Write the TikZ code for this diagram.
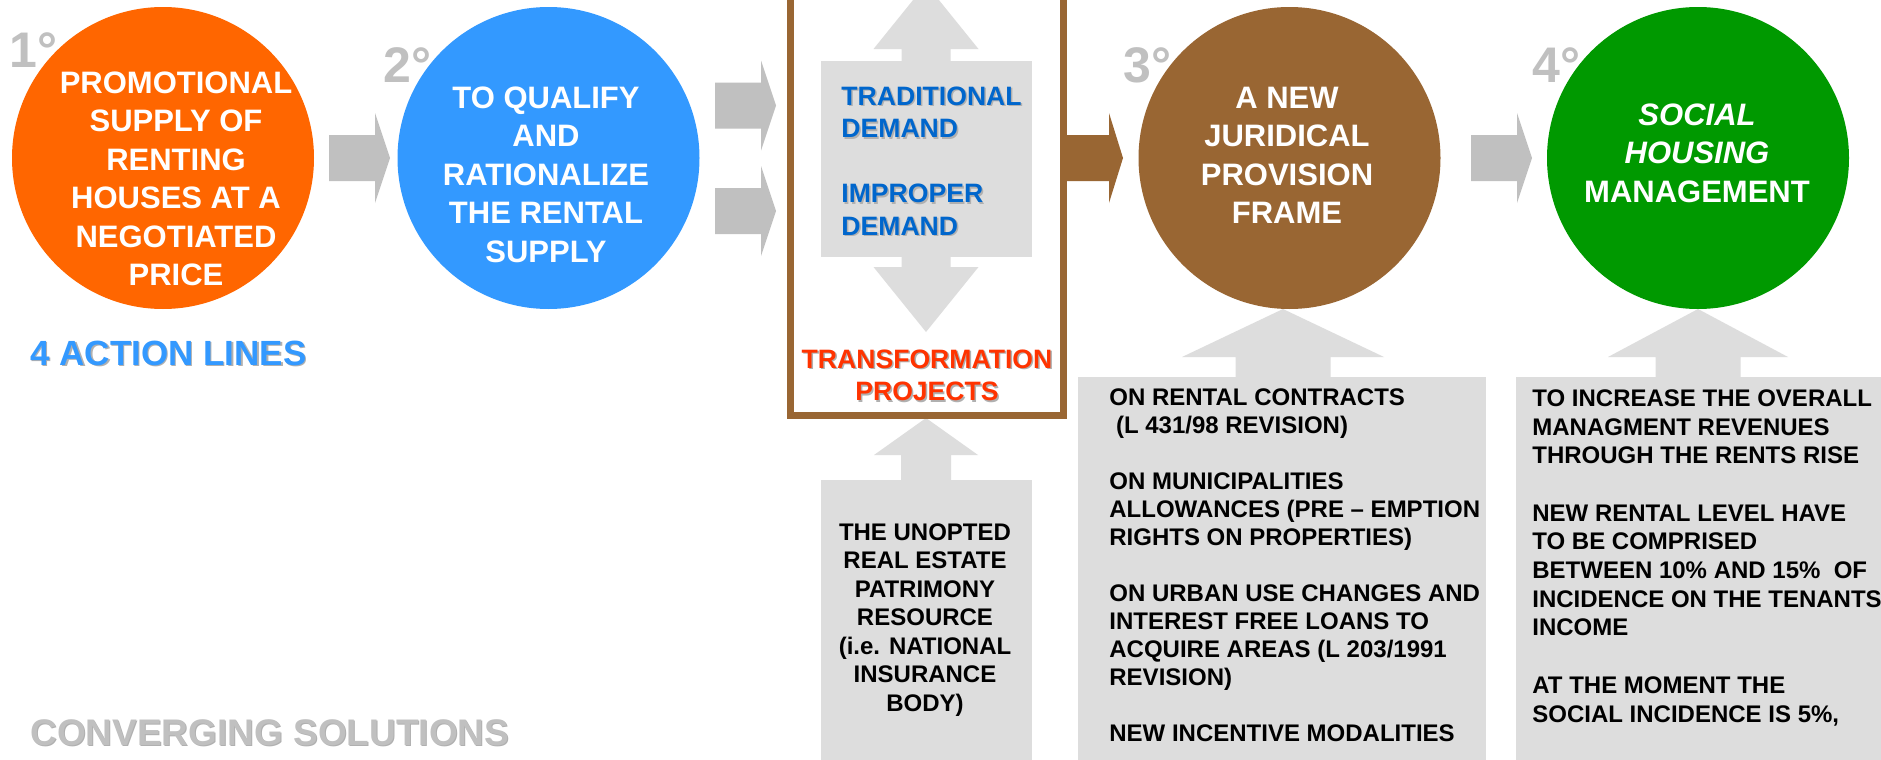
\documentclass[tikz,border=0pt]{standalone}
\usepackage{fontspec}
\setmainfont{Liberation Sans}
\usetikzlibrary{calc}

\definecolor{cOrange}{HTML}{FF6600}
\definecolor{cBlue}{HTML}{3399FF}
\definecolor{cBrown}{HTML}{996633}
\definecolor{cGreen}{HTML}{009900}
\definecolor{arrowgray}{HTML}{C0C0C0}
\definecolor{lightgray}{HTML}{DDDDDD}
\definecolor{demandblue}{HTML}{0066CC}
\definecolor{projred}{HTML}{FF3300}
\definecolor{numgray}{HTML}{C0C0C0}
\definecolor{shadowgray}{HTML}{B0B0B0}

% right-pointing block arrow: fill, shaft start x, head base x, tip x, centre y
\newcommand{\rightblock}[5]{%
  \fill[#1] (#2,#5-23) -- (#3,#5-23) -- (#3,#5-45) -- (#4,#5)
    -- (#3,#5+45) -- (#3,#5+23) -- (#2,#5+23) -- cycle;}
% vertical block arrow: fill, centre x, tip y, head base y, shaft end y, head half width, shaft half width
\newcommand{\vertblock}[7]{%
  \fill[#1] (#2,#3) -- (#2+#6,#4) -- (#2+#7,#4) -- (#2+#7,#5)
    -- (#2-#7,#5) -- (#2-#7,#4) -- (#2-#6,#4) -- cycle;}

\tikzset{
  stage/.style={circle, inner sep=0pt, minimum size=151pt},
  stagetext/.style={inner sep=0pt, text=white, align=center,
    font=\fontsize{15.5}{19.25}\selectfont\bfseries},
  stagenum/.style={inner sep=0pt, anchor=base west, text=numgray,
    font=\fontsize{25}{30}\selectfont\bfseries},
  panel/.style={fill=lightgray},
  paneltext/.style={inner sep=0pt, text=black,
    font=\fontsize{12}{14.25}\selectfont\bfseries},
  demandtext/.style={inner sep=0pt, align=left,
    font=\fontsize{13.3}{16.25}\selectfont\bfseries},
  headline/.style={inner sep=0pt, anchor=base west},
}

\begin{document}
\begin{tikzpicture}[x=0.5pt, y=-0.5pt]
\useasboundingbox (0,0) rectangle (1881,760);
\fill[white] (0,0) rectangle (1881,760);

% grey panels
\fill[panel] (821,61) rectangle (1032,257);
\fill[panel] (821,480) rectangle (1032,770);
\fill[panel] (1078,377) rectangle (1486,770);
\fill[panel] (1516,377) rectangle (1890,770);

% block arrows
\rightblock{arrowgray}{329}{375}{390}{158}
\rightblock{arrowgray}{715}{761}{776}{105.5}
\rightblock{arrowgray}{715}{761}{776}{211}
\rightblock{cBrown}{1063}{1109}{1123}{158}
\rightblock{arrowgray}{1471}{1517}{1532}{158}
\vertblock{lightgray}{926}{-16}{49}{62}{52.5}{24.5}
\vertblock{lightgray}{926}{332}{267}{256}{52.5}{24.5}
\vertblock{lightgray}{926}{418}{455}{481}{52}{25}
\vertblock{lightgray}{1283}{309}{357}{378}{101}{47.5}
\vertblock{lightgray}{1698}{309}{357}{378}{90}{42.5}

% frame of the demand block
\draw[cBrown, line width=3.5pt] (790.5,-20) rectangle (1063,415);

% the four stages
\node[stage, fill=cOrange] (s1) at (163,158) {};
\node[stage, fill=cBlue]   (s2) at (548.5,158) {};
\node[stage, fill=cBrown]  (s3) at (1289.5,158) {};
\node[stage, fill=cGreen]  (s4) at (1698,158) {};

\node[stagetext, anchor=north] (s1t) at (176,66)
  {\strut PROMOTIONAL\\SUPPLY OF\\RENTING\\HOUSES AT A\\NEGOTIATED\\PRICE};
\node[stagetext, anchor=north] (s2t) at (546,81)
  {\strut TO QUALIFY\\AND\\RATIONALIZE\\THE RENTAL\\SUPPLY};
\node[stagetext, anchor=north] (s3t) at (1287,81)
  {\strut A NEW\\JURIDICAL\\PROVISION\\FRAME};
\node[stagetext, anchor=north] (s4t) at (1697,98)
  {\strut{\itshape SOCIAL}\\{\itshape HOUSING}\\MANAGEMENT};

\node[stagenum] (n1) at (9,68) {1°};
\node[stagenum] (n2) at (383,83) {2°};
\node[stagenum] (n3) at (1123,83) {3°};
\node[stagenum] (n4) at (1532,83) {4°};

% demand block texts
\node[demandtext, anchor=north west, text=shadowgray] (dems) at (842.5,83.5)
  {\strut TRADITIONAL\\DEMAND\\\strut\\IMPROPER\\DEMAND};
\node[demandtext, anchor=north west, text=demandblue] (dem) at (841,82)
  {\strut TRADITIONAL\\DEMAND\\\strut\\IMPROPER\\DEMAND};
\node[demandtext, align=center, anchor=north, text=shadowgray] (tps) at (928.5,346.5)
  {\strut TRANSFORMATION\\PROJECTS};
\node[demandtext, align=center, anchor=north, text=projred] (tp) at (927,345)
  {\strut TRANSFORMATION\\PROJECTS};

% panel texts
\node[paneltext, align=center, anchor=north] (p1) at (925,520)
  {\strut THE UNOPTED\\REAL ESTATE\\PATRIMONY\\RESOURCE\\(i.e. NATIONAL\\INSURANCE\\BODY)};
\node[paneltext, align=left, anchor=north west,
  font=\fontsize{12}{14}\selectfont\bfseries] (p2) at (1109,385.4)
  {\strut ON RENTAL CONTRACTS\\\hspace*{3.3pt}(L 431/98 REVISION)\\\strut\\
   ON MUNICIPALITIES\\ALLOWANCES (PRE – EMPTION\\RIGHTS ON PROPERTIES)\\\strut\\
   ON URBAN USE CHANGES AND\\INTEREST FREE LOANS TO\\ACQUIRE AREAS (L 203/1991\\REVISION)\\\strut\\
   NEW INCENTIVE MODALITIES};
\node[paneltext, align=left, anchor=north west,
  font=\fontsize{12}{14.35}\selectfont\bfseries] (p3) at (1532,385.9)
  {\strut TO INCREASE THE OVERALL\\MANAGMENT REVENUES\\THROUGH THE RENTS RISE\\\strut\\
   NEW RENTAL LEVEL HAVE\\TO BE COMPRISED\\BETWEEN 10\% AND 15\%\ \ OF\\INCIDENCE ON THE TENANTS\\INCOME\\\strut\\
   AT THE MOMENT THE\\SOCIAL INCIDENCE IS 5\%,};

% headings
\node[headline, text=shadowgray, font=\fontsize{17.5}{21}\selectfont\bfseries] (als) at (31.5,366.5) {4 ACTION LINES};
\node[headline, text=cBlue, font=\fontsize{17.5}{21}\selectfont\bfseries] (al) at (30,365) {4 ACTION LINES};
\node[headline, text=shadowgray, font=\fontsize{18.5}{22}\selectfont\bfseries] (css) at (31,746) {CONVERGING SOLUTIONS};
\node[headline, text=numgray, font=\fontsize{18.5}{22}\selectfont\bfseries] (cs) at (30,745) {CONVERGING SOLUTIONS};
\end{tikzpicture}
\end{document}
